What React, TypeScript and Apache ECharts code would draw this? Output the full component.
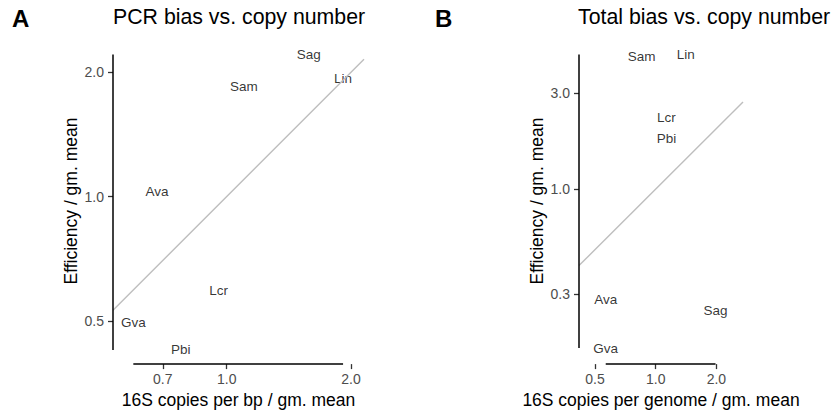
import React, { useEffect, useRef } from "react";
import * as echarts from "echarts";

// Panel A: PCR bias vs. copy number
const speciesA = ["Ava", "Gva", "Lcr", "Lin", "Pbi", "Sag", "Sam"];
const copiesPerBpA = [0.678, 0.594, 0.956, 1.914, 0.774, 1.58, 1.1];
const efficiencyA = [1.03, 0.496, 0.592, 1.93, 0.425, 2.21, 1.85];
const xTicksA = [0.7, 1.0, 2.0];
const yTicksA = [0.5, 1.0, 2.0];

// Panel B: Total bias vs. copy number
const speciesB = ["Ava", "Gva", "Lcr", "Lin", "Pbi", "Sag", "Sam"];
const copiesPerGenomeB = [0.565, 0.565, 1.13, 1.41, 1.13, 1.98, 0.852];
const efficiencyB = [0.284, 0.162, 2.28, 4.67, 1.78, 0.25, 4.55];
const xTicksB = [0.5, 1.0, 2.0];
const yTicksB = [0.3, 1.0, 3.0];

const FONT = "'Liberation Sans', Arial, Helvetica, sans-serif";
const l2 = (v: number) => Math.log2(v);
const fmt = (v: number) => Math.pow(2, v).toFixed(1);

function axisBase(ticks: number[], min: number, max: number, gridIndex: number, name: string, isY: boolean) {
  return {
    type: "value",
    gridIndex,
    min,
    max,
    name,
    nameLocation: "middle",
    nameGap: isY ? 33 : 25,
    nameTextStyle: { color: "#000000", fontSize: 17.5, fontFamily: FONT },
    axisLine: { show: false, onZero: false },
    splitLine: { show: false },
    axisTick: {
      show: true,
      length: 5,
      customValues: ticks.map(l2),
      lineStyle: { color: "#333333", width: 1.3 },
    },
    axisLabel: {
      show: true,
      customValues: ticks.map(l2),
      formatter: (v: number) => fmt(v),
      color: "#4D4D4D",
      fontSize: 14,
      fontFamily: FONT,
      margin: isY ? 9 : 8,
    },
  };
}

function panelSeries(
  names: string[],
  xs: number[],
  ys: number[],
  xMin: number,
  xMax: number,
  yMin: number,
  idx: number
) {
  const lx = xs.map(l2);
  const ly = ys.map(l2);
  const dxMin = Math.min(...lx);
  const dxMax = Math.max(...lx);
  const dyMin = Math.min(...ly);
  const dyMax = Math.max(...ly);
  return [
    {
      type: "line",
      xAxisIndex: idx,
      yAxisIndex: idx,
      data: [
        [xMin, xMin],
        [xMax, xMax],
      ],
      symbol: "none",
      clip: true,
      silent: true,
      lineStyle: { color: "#BEBEBE", width: 1.4 },
    },
    {
      type: "line",
      xAxisIndex: idx,
      yAxisIndex: idx,
      data: [
        [dxMin, yMin],
        [dxMax, yMin],
      ],
      symbol: "none",
      clip: false,
      silent: true,
      lineStyle: { color: "#000000", width: 1.5 },
    },
    {
      type: "line",
      xAxisIndex: idx,
      yAxisIndex: idx,
      data: [
        [xMin, dyMin],
        [xMin, dyMax],
      ],
      symbol: "none",
      clip: false,
      silent: true,
      lineStyle: { color: "#000000", width: 1.5 },
    },
    {
      type: "scatter",
      xAxisIndex: idx,
      yAxisIndex: idx,
      symbolSize: 0,
      silent: true,
      data: names.map((n, i) => ({ name: n, value: [lx[i], ly[i]] })),
      label: {
        show: true,
        position: "inside",
        formatter: (p: any) => p.name,
        color: "#000000",
        fontSize: 13.5,
        fontFamily: FONT,
      },
    },
  ];
}

export default function App() {
  const ref = useRef<HTMLDivElement>(null);
  useEffect(() => {
    if (!ref.current) return;
    const chart = echarts.init(ref.current, null, { renderer: "svg" });
    const ax = { xMin: -0.915, xMax: 1.105, yMin: -1.349, yMax: 1.277 };
    const bx = { xMin: -1.264, xMax: 1.438, yMin: -2.891, yMax: 2.496 };
    chart.setOption({
      animation: false,
      backgroundColor: "#ffffff",
      textStyle: { fontFamily: FONT },
      grid: [
        { left: 113, top: 38, width: 251, height: 327 },
        { left: 579, top: 38, width: 164, height: 327 },
      ],
      xAxis: [
        axisBase(xTicksA, ax.xMin, ax.xMax, 0, "16S copies per bp / gm. mean", false),
        axisBase(xTicksB, bx.xMin, bx.xMax, 1, "16S copies per genome / gm. mean", false),
      ],
      yAxis: [
        axisBase(yTicksA, ax.yMin, ax.yMax, 0, "Efficiency / gm. mean", true),
        axisBase(yTicksB, bx.yMin, bx.yMax, 1, "Efficiency / gm. mean", true),
      ],
      series: [
        ...panelSeries(speciesA, copiesPerBpA, efficiencyA, ax.xMin, ax.xMax, ax.yMin, 0),
        ...panelSeries(speciesB, copiesPerGenomeB, efficiencyB, bx.xMin, bx.xMax, bx.yMin, 1),
      ],
      graphic: [
        {
          type: "text",
          x: 12,
          y: 18,
          style: { text: "A", fontSize: 24, fontWeight: "bold", fontFamily: FONT, fill: "#000", textVerticalAlign: "middle" },
        },
        {
          type: "text",
          x: 113,
          y: 16.5,
          style: { text: "PCR bias vs. copy number", fontSize: 21.3, fontFamily: FONT, fill: "#000", textVerticalAlign: "middle" },
        },
        {
          type: "text",
          x: 435,
          y: 18,
          style: { text: "B", fontSize: 24, fontWeight: "bold", fontFamily: FONT, fill: "#000", textVerticalAlign: "middle" },
        },
        {
          type: "text",
          x: 578,
          y: 16.5,
          style: { text: "Total bias vs. copy number", fontSize: 21.3, fontFamily: FONT, fill: "#000", textVerticalAlign: "middle" },
        },
      ],
    });
    return () => chart.dispose();
  }, []);
  return (
    <div
      ref={ref}
      style={{ position: "absolute", left: 0, top: 0, width: 835, height: 414, background: "#fff" }}
    />
  );
}
